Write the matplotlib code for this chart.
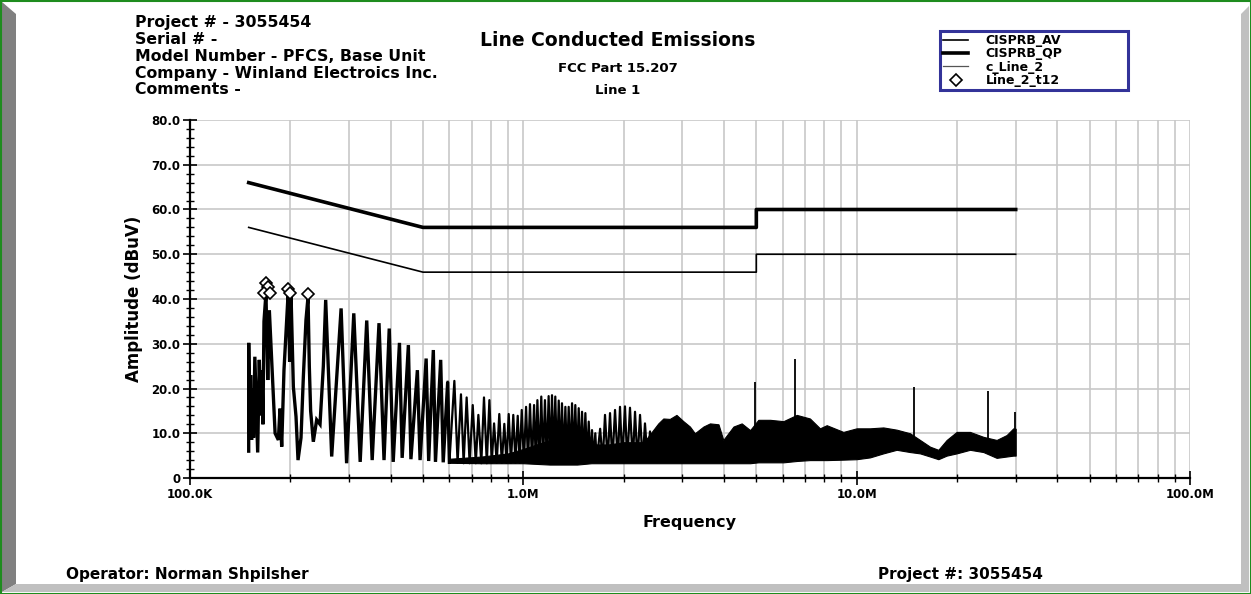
import numpy as np
import matplotlib
matplotlib.use('Agg')
import matplotlib.pyplot as plt
from matplotlib.patches import Rectangle, Polygon
from matplotlib.ticker import FixedLocator, FixedFormatter, NullFormatter

plt.rcParams['font.family'] = ['DejaVu Sans']
plt.rcParams['font.weight'] = 'bold'

# ---------------- data (frequencies in MHz, amplitudes in dBuV) ----------------
limit_freq_mhz = [0.15, 0.5, 5.0, 5.0, 30.0]
cisprb_qp = [66, 56, 56, 60, 60]
cisprb_av = [56, 46, 46, 50, 50]

trace_freq_mhz = [
    0.150, 0.150, 0.151, 0.152, 0.153, 0.1545, 0.1551, 0.1565, 0.1596, 0.1614,
    0.1629, 0.1644, 0.1655, 0.1667, 0.1690, 0.1711, 0.1730, 0.1800, 0.1841, 0.1862,
    0.1884, 0.1914, 0.1950, 0.1972, 0.1990, 0.2009, 0.2042, 0.2080, 0.2109, 0.2153,
    0.2188, 0.2228, 0.2260, 0.2280, 0.2301, 0.2344, 0.2399, 0.2455, 0.2512, 0.2553,
    0.2661, 0.284, 0.295, 0.310, 0.324, 0.339, 0.352, 0.369, 0.382, 0.396,
    0.407, 0.425, 0.433, 0.452, 0.460, 0.481, 0.490, 0.511, 0.520, 0.537,
    0.545, 0.565, 0.575, 0.593, 0.600, 0.621, 0.635, 0.650, 0.662, 0.676,
    0.690, 0.705, 0.720, 0.733, 0.748, 0.762, 0.777, 0.791, 0.804, 0.817,
    0.832, 0.847, 0.862, 0.877, 0.890, 0.904, 0.918, 0.933, 0.947, 0.962,
    0.975, 0.989, 1.004, 1.019, 1.033, 1.047, 1.062, 1.077, 1.090, 1.102,
    1.117, 1.132, 1.146, 1.161, 1.176, 1.191, 1.205, 1.219, 1.233, 1.247,
    1.262, 1.277, 1.291, 1.306, 1.321, 1.337, 1.352, 1.368, 1.384, 1.400,
    1.416, 1.432, 1.449, 1.466, 1.483, 1.500, 1.517, 1.535, 1.553, 1.571,
    1.589, 1.607, 1.625, 1.644, 1.660, 1.700, 1.730, 1.758, 1.790, 1.820,
    1.850, 1.884, 1.920, 1.950, 1.980, 2.018, 2.050, 2.089, 2.130, 2.163,
    2.200, 2.239, 2.280, 2.317, 2.360, 2.399, 2.440, 2.483, 2.520,
]
trace_dbuv = [
    6.0, 30.2, 10.0, 23.0, 8.5, 20.0, 9.0, 27.1, 5.7, 26.4,
    14.0, 24.0, 12.0, 35.0, 41.3, 21.9, 37.5, 10.0, 8.5, 15.5,
    7.0, 24.1, 35.3, 42.0, 26.0, 41.3, 20.4, 13.7, 4.0, 9.0,
    22.6, 35.3, 40.5, 25.0, 15.0, 8.1, 13.0, 12.0, 25.0, 39.8,
    4.8, 37.9, 3.3, 36.8, 3.6, 35.2, 4.0, 34.6, 4.0, 33.4,
    3.6, 30.2, 4.5, 29.7, 4.2, 24.1, 4.0, 26.7, 3.8, 28.6,
    3.6, 26.4, 3.5, 21.5, 3.5, 21.7, 3.4, 18.7, 3.3, 18.0,
    3.3, 16.3, 3.3, 14.1, 3.3, 18.0, 3.3, 17.4, 3.4, 12.2,
    3.4, 14.3, 3.4, 12.1, 3.4, 14.3, 3.4, 14.1, 3.4, 13.9,
    3.4, 15.2, 3.5, 15.9, 3.5, 16.5, 3.5, 16.3, 3.5, 17.4,
    3.5, 18.2, 3.5, 17.4, 3.5, 18.3, 3.5, 18.5, 3.5, 18.2,
    3.5, 17.3, 3.5, 16.7, 3.5, 15.9, 3.5, 15.9, 3.5, 16.7,
    3.5, 16.3, 3.5, 15.6, 3.5, 14.8, 3.5, 14.5, 3.6, 12.6,
    3.6, 10.7, 3.6, 10.0, 3.6, 11.0, 3.6, 14.1, 3.6, 14.5,
    3.6, 15.2, 3.6, 15.9, 3.6, 16.0, 3.6, 15.7, 3.6, 14.8,
    3.6, 14.1, 3.6, 12.2, 3.6, 10.4, 3.6, 9.3, 3.6,
]

# dense part of the trace: lower / upper envelope
band_freq_mhz = [0.60, 0.75, 0.90, 1.00, 1.20, 1.45, 1.60, 1.80, 2.00, 2.30,
                 2.54, 2.63, 2.75, 2.88, 3.02, 3.16, 3.27, 3.47, 3.63, 3.85,
                 3.98, 4.27, 4.52, 4.79, 5.07, 5.50, 6.03, 6.61, 7.24, 7.76,
                 8.13, 9.12, 10.0, 10.96, 12.02, 13.18, 14.45, 15.49, 16.60, 17.58,
                 18.62, 19.95, 21.88, 23.99, 26.30, 28.18, 29.51, 30.0]
band_low_dbuv = [3.4, 3.3, 3.3, 3.3, 3.0, 3.0, 3.3, 3.3, 3.3, 3.3,
                 3.3, 3.3, 3.3, 3.3, 3.3, 3.3, 3.3, 3.3, 3.3, 3.3,
                 3.3, 3.3, 3.3, 3.3, 3.5, 3.5, 3.5, 3.8, 4.0, 4.0,
                 4.0, 4.1, 4.2, 4.6, 5.5, 6.3, 5.8, 5.5, 4.8, 4.2,
                 5.0, 5.5, 6.3, 5.8, 4.5, 4.8, 5.0, 5.0]
band_high_dbuv = [4.3, 4.8, 5.5, 6.5, 8.5, 8.5, 7.5, 7.5, 8.0, 8.0,
                  12.2, 13.3, 13.2, 14.1, 12.7, 11.5, 10.0, 11.5, 12.2, 12.0,
                  8.5, 11.5, 12.2, 10.7, 13.0, 13.0, 12.7, 14.1, 13.3, 11.1,
                  11.8, 10.3, 11.1, 11.1, 11.3, 10.8, 10.0, 8.5, 7.0, 6.3,
                  8.5, 10.3, 10.3, 9.2, 8.5, 9.6, 11.1, 11.0]

# isolated narrow spikes
spike_freq_mhz = [4.95, 6.53, 14.9, 24.8, 29.9]
spike_top_dbuv = [21.5, 26.5, 20.3, 19.4, 14.8]
spike_base_dbuv = [8.0, 10.0, 8.0, 7.0, 6.0]

# peak markers (Line_2_t12)
marker_freq_mhz = [0.1687, 0.1714, 0.1667, 0.1738, 0.1964, 0.1995, 0.2260]
marker_dbuv = [43.6, 42.7, 41.3, 41.3, 42.2, 41.3, 41.1]

x_tick_values = [1e5, 1e6, 1e7, 1e8]
x_tick_labels = ['100.0K', '1.0M', '10.0M', '100.0M']
y_tick_values = [0, 10, 20, 30, 40, 50, 60, 70, 80]
y_tick_labels = ['0', '10.0', '20.0', '30.0', '40.0', '50.0', '60.0', '70.0', '80.0']

header_lines = ['Project # - 3055454', 'Serial # -', 'Model Number - PFCS, Base Unit',
                'Company - Winland Electroics Inc.', 'Comments -']

# ---------------- figure ----------------
W, H = 1251, 594
fig = plt.figure(figsize=(W / 100, H / 100), dpi=100)
fig.patch.set_facecolor('white')

# decorative frame drawn in pixel coordinates
bg = fig.add_axes([0, 0, 1, 1], zorder=-5)
bg.set_xlim(0, W)
bg.set_ylim(H, 0)
bg.axis('off')
bg.add_patch(Polygon([[2, 2], [16, 14], [16, 584], [2, 592]], closed=True,
                     facecolor='#808080', edgecolor='none'))
bg.add_patch(Polygon([[1241, 14], [1249, 6], [1249, 592], [1241, 592]], closed=True,
                     facecolor='#c0c0c0', edgecolor='none'))
bg.add_patch(Polygon([[16, 584], [1249, 584], [1249, 592], [2, 592]], closed=True,
                     facecolor='#c0c0c0', edgecolor='none'))
bg.add_patch(Rectangle((0.5, 0.5), W - 1, H - 1, facecolor='none',
                       edgecolor='#1e8c1e', linewidth=1.5))

# main axes
ax = fig.add_axes([190 / W, 1 - 478 / H, 1000 / W, 358 / H])
ax.set_xscale('log')
ax.set_xlim(1e5, 1e8)
ax.set_ylim(0, 80)

hz = lambda v: np.asarray(v) * 1e6

tf = np.asarray(trace_freq_mhz)
td = np.asarray(trace_dbuv)
low = tf <= 0.6
high = tf >= 0.593

ax.fill_between(hz(band_freq_mhz), band_low_dbuv, band_high_dbuv,
                color='black', linewidth=0.8, zorder=3)
ax.plot(hz(tf[low]), td[low], color='black', linewidth=2.4,
        solid_joinstyle='miter', zorder=4)
ax.plot(hz(tf[high]), td[high], color='black', linewidth=1.6, zorder=4)
ax.vlines(hz(spike_freq_mhz), spike_base_dbuv, spike_top_dbuv, color='black',
          linewidth=1.3, zorder=4)

l_av, = ax.plot(hz(limit_freq_mhz), cisprb_av, color='black', linewidth=1.2, zorder=5)
l_qp, = ax.plot(hz(limit_freq_mhz), cisprb_qp, color='black', linewidth=2.6, zorder=5)
l_tr, = ax.plot([], [], color='#555555', linewidth=0.9)
l_mk, = ax.plot(hz(marker_freq_mhz), marker_dbuv, linestyle='none', marker='D',
                markersize=6, markerfacecolor='white', markeredgecolor='black',
                markeredgewidth=1.2, zorder=6)

# grid / ticks
minor_x = [m * 10 ** e for e in range(5, 8) for m in range(2, 10)]
ax.xaxis.set_major_locator(FixedLocator(x_tick_values))
ax.xaxis.set_major_formatter(FixedFormatter(x_tick_labels))
ax.xaxis.set_minor_locator(FixedLocator(minor_x))
ax.xaxis.set_minor_formatter(NullFormatter())
ax.yaxis.set_major_locator(FixedLocator(y_tick_values))
ax.yaxis.set_major_formatter(FixedFormatter(y_tick_labels))
ax.yaxis.set_minor_locator(FixedLocator(list(range(0, 81, 2))))

ax.grid(which='major', axis='both', color='#c8c8c8', linewidth=1.2, zorder=0)
ax.grid(which='minor', axis='x', color='#c8c8c8', linewidth=1.2, zorder=0)
ax.set_axisbelow(True)

ax.tick_params(which='major', direction='inout', length=10, width=1.2,
               labelsize=8.5, pad=2)
ax.tick_params(which='minor', direction='inout', length=6, width=1.0)
for s in ('top', 'right'):
    ax.spines[s].set_visible(False)
for s in ('left', 'bottom'):
    ax.spines[s].set_linewidth(1.6)
for lab in ax.get_xticklabels() + ax.get_yticklabels():
    lab.set_fontweight('bold')

ax.set_xlabel('Frequency', fontsize=11.5, fontweight='bold', labelpad=10)
ax.set_ylabel('Amplitude (dBuV)', fontsize=12, fontweight='bold', labelpad=6)

# legend
leg = fig.legend([l_av, l_qp, l_tr, l_mk],
                 ['CISPRB_AV', 'CISPRB_QP', 'c_Line_2', 'Line_2_t12'],
                 loc='upper left', bbox_to_anchor=(940 / W, 1 - 31 / H, 188 / W, 0.0),
                 mode='expand', frameon=True, fancybox=False, handlelength=2.0,
                 handletextpad=1.4, labelspacing=0.02, borderpad=0.25,
                 borderaxespad=0, prop={'weight': 'bold', 'size': 9})
leg.get_frame().set_edgecolor('#000080')
leg.get_frame().set_linewidth(2.2)
leg.get_frame().set_facecolor('white')

# texts
for i, t in enumerate(header_lines):
    fig.text(135 / W, 1 - (23 + i * 16.7) / H, t, fontsize=11.3, fontweight='bold',
             ha='left', va='center')
fig.text(618 / W, 1 - 40 / H, 'Line Conducted Emissions', fontsize=13.5,
         fontweight='bold', ha='center', va='center')
fig.text(618 / W, 1 - 69 / H, 'FCC Part 15.207', fontsize=9.5,
         fontweight='bold', ha='center', va='center')
fig.text(618 / W, 1 - 91 / H, 'Line 1', fontsize=9.5,
         fontweight='bold', ha='center', va='center')
fig.text(66 / W, 1 - 574 / H, 'Operator: Norman Shpilsher', fontsize=11,
         fontweight='bold', ha='left', va='center')
fig.text(878 / W, 1 - 574 / H, 'Project #: 3055454', fontsize=11,
         fontweight='bold', ha='left', va='center')

fig.savefig('out.png', dpi=100)
